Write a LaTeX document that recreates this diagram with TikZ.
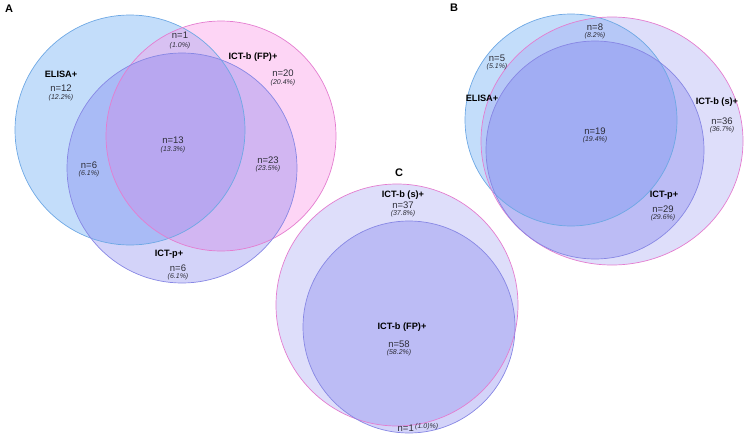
\documentclass[tikz,border=0pt]{standalone}
\usepackage{fontspec}
\setmainfont{Liberation Sans}
\definecolor{elisafill}{RGB}{121,180,245}
\definecolor{elisaline}{RGB}{110,168,228}
\definecolor{fpfill}{RGB}{250,150,230}
\definecolor{fpline}{RGB}{228,125,208}
\definecolor{pfill}{RGB}{110,110,235}
\definecolor{pline}{RGB}{135,135,228}
\definecolor{sfill}{RGB}{160,160,240}
\definecolor{txt}{RGB}{45,45,55}

\begin{document}
\begin{tikzpicture}[x=1pt,y=-1pt,
  tag/.style={font=\bfseries\fontsize{11}{12}\selectfont},
  setname/.style={font=\bfseries\fontsize{9.2}{10}\selectfont, inner sep=0pt},
  cnt/.style={font=\fontsize{9.5}{10}\selectfont, text=txt, inner sep=0pt},
  pct/.style={font=\itshape\fontsize{7}{8}\selectfont, text=txt, inner sep=0pt},
  ring/.style={line width=0.7pt}]
\useasboundingbox (0,0) rectangle (746,436);

% Panel A
\fill[elisafill, fill opacity=0.45] (130,130) circle[radius=115pt];
\fill[fpfill, fill opacity=0.4] (221,136) circle[radius=115pt];
\fill[pfill, fill opacity=0.3] (182,168) circle[radius=115pt];
\draw[ring, elisaline] (130,130) circle[radius=115pt];
\draw[ring, fpline] (221,136) circle[radius=115pt];
\draw[ring, pline] (182,168) circle[radius=115pt];

\node[tag] (tagA) at (9,9) {A};
\node[setname] (elisaA) at (61,74) {ELISA+};
\node[cnt] (nA1) at (61,88) {n=12};
\node[pct] (pA1) at (61,98) {(12.2\%)};
\node[cnt] (nA2) at (180,35) {n=1};
\node[pct] (pA2) at (180,46) {(1.0\%)};
\node[setname] (fpA) at (253,57) {ICT-b (FP)+};
\node[cnt] (nA3) at (283,73) {n=20};
\node[pct] (pA3) at (283,83) {(20.4\%)};
\node[cnt] (nA4) at (173,140) {n=13};
\node[pct] (pA4) at (173,150) {(13.3\%)};
\node[cnt] (nA5) at (89,165) {n=6};
\node[pct] (pA5) at (89,174) {(6.1\%)};
\node[cnt] (nA6) at (268,160) {n=23};
\node[pct] (pA6) at (268,169) {(23.5\%)};
\node[setname] (ictpA) at (169,254) {ICT-p+};
\node[cnt] (nA7) at (178,268) {n=6};
\node[pct] (pA7) at (178,277) {(6.1\%)};

% Panel B
\fill[elisafill, fill opacity=0.45] (571,120) circle[radius=106pt];
\fill[sfill, fill opacity=0.35] (612,141) ellipse[x radius=131pt, y radius=124pt];
\fill[pfill, fill opacity=0.3] (595,150) circle[radius=109pt];
\draw[ring, elisaline] (571,120) circle[radius=106pt];
\draw[ring, fpline] (612,141) ellipse[x radius=131pt, y radius=124pt];
\draw[ring, pline] (595,150) circle[radius=109pt];

\node[tag] (tagB) at (454,8) {B};
\node[cnt] (nB1) at (595,27) {n=8};
\node[pct] (pB1) at (595,36) {(8.2\%)};
\node[cnt] (nB2) at (497,58) {n=5};
\node[pct] (pB2) at (497,67) {(5.1\%)};
\node[setname] (elisaB) at (482,98) {ELISA+};
\node[setname] (sB) at (717,102) {ICT-b (s)+};
\node[cnt] (nB3) at (722,121) {n=36};
\node[pct] (pB3) at (722,130) {(36.7\%)};
\node[cnt] (nB4) at (595,131) {n=19};
\node[pct] (pB4) at (595,140) {(19.4\%)};
\node[setname] (ictpB) at (664,195) {ICT-p+};
\node[cnt] (nB5) at (663,209) {n=29};
\node[pct] (pB5) at (663,218) {(29.6\%)};

% Panel C
\fill[sfill, fill opacity=0.35] (397,305) circle[radius=121pt];
\fill[pfill, fill opacity=0.3] (409,327) circle[radius=106pt];
\draw[ring, fpline] (397,305) circle[radius=121pt];
\draw[ring, pline] (409,327) circle[radius=106pt];

\node[tag] (tagC) at (399,173) {C};
\node[setname] (sC) at (403,195) {ICT-b (s)+};
\node[cnt] (nC1) at (403,205) {n=37};
\node[pct] (pC1) at (403,214) {(37.8\%)};
\node[setname] (fpC) at (402,327) {ICT-b (FP)+};
\node[cnt] (nC2) at (399,344) {n=58};
\node[pct] (pC2) at (399,353) {(58.2\%)};
\node[cnt, anchor=east] (nC3) at (414,428) {n=1};
\node[pct, anchor=west] (pC3) at (415,427) {(1.0)\%)};

\end{tikzpicture}
\end{document}
